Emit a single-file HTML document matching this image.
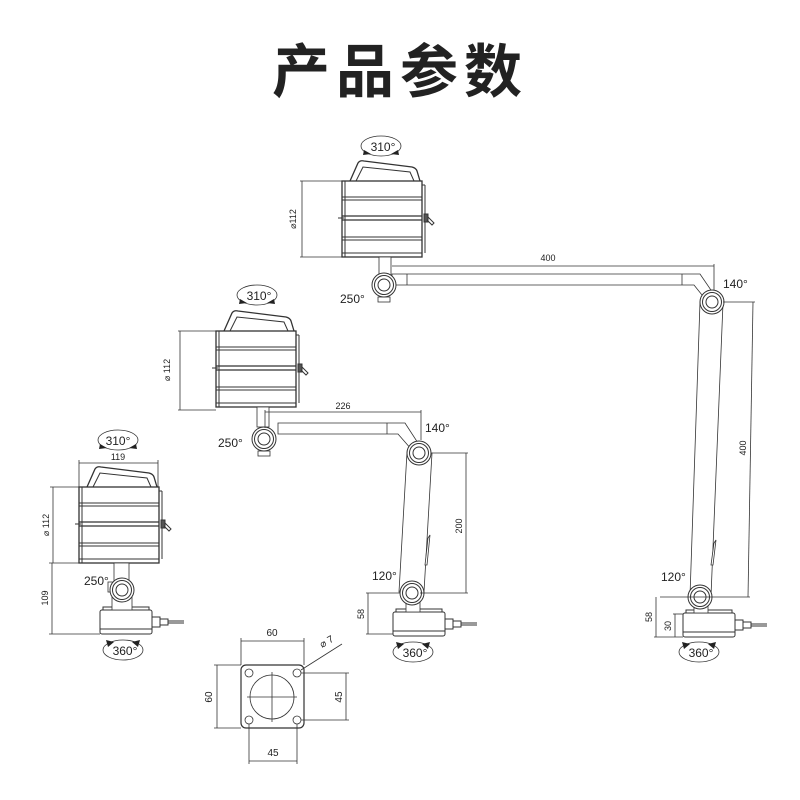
<!DOCTYPE html>
<html><head><meta charset="utf-8"><style>
html,body{margin:0;padding:0;background:#fff;}
svg{display:block;}
text{font-family:"Liberation Sans","Noto Sans CJK SC",sans-serif;fill:#222;}
</style></head><body>
<svg width="800" height="800" viewBox="0 0 800 800" xmlns="http://www.w3.org/2000/svg">
<defs>
<g id="head" fill="none" stroke="#333" stroke-width="1">
 <path d="M8 0 L16 -18 Q18 -21 22 -20 L70 -14 Q74 -13 75 -10 L78 0" stroke-width="1.3"/>
 <path d="M14 0 L21 -14 L68 -9 L72 0"/>
 <rect x="0" y="0" width="80" height="76" fill="#fff" stroke-width="1.3"/>
 <line x1="3" y1="0" x2="3" y2="76"/>
 <line x1="80" y1="4" x2="83" y2="4"/><line x1="83" y1="4" x2="83" y2="72"/>
 <line x1="0" y1="16" x2="80" y2="16"/><line x1="0" y1="19" x2="80" y2="19"/>
 <line x1="0" y1="35" x2="80" y2="35" stroke-width="1.3"/><line x1="0" y1="39" x2="80" y2="39" stroke-width="1.3"/>
 <line x1="0" y1="56" x2="80" y2="56"/><line x1="0" y1="59" x2="80" y2="59"/>
 <line x1="0" y1="72" x2="80" y2="72"/>
 <line x1="-4" y1="37" x2="2" y2="37"/>
 <rect x="82" y="33" width="4" height="8" fill="#555"/>
 <path d="M86 36 L92 42 L90 44 L85 39"/>
</g>
<g id="joint" fill="#fff" stroke="#333" stroke-width="1">
 <circle r="12"/><circle r="9.5"/><circle r="6"/>
</g>
<g id="base" fill="#fff" stroke="#333" stroke-width="1">
 <rect x="0" y="0" width="52" height="24" rx="2"/>
 <rect x="3" y="-3" width="46" height="3"/>
 <line x1="0" y1="19" x2="52" y2="19"/>
 <rect x="52" y="7" width="8" height="10"/>
 <rect x="60" y="9" width="8" height="6"/>
 <path d="M68 11 L84 11 M68 13 L84 13" />
</g>
</defs>

<text x="400" y="92" text-anchor="middle" font-size="58" font-weight="bold" fill="#111" style="font-family:'Noto Sans CJK SC',sans-serif;letter-spacing:6px">产品参数</text>

<g stroke="#333" fill="none" stroke-width="0.8">
<!-- ===== LEFT LAMP ===== -->
<use href="#head" x="79" y="487"/>
<ellipse cx="118" cy="440" rx="20" ry="10"/>
<text x="118" y="445" text-anchor="middle" font-size="12" stroke="none">310°</text>
<path d="M100 444 l7 4 -8 1z M136 444 l-7 4 8 1z" fill="#222" stroke="none"/>
<line x1="79" y1="463" x2="158" y2="463"/><line x1="79" y1="460" x2="79" y2="487"/><line x1="158" y1="460" x2="158" y2="487"/>
<text x="118" y="460" text-anchor="middle" font-size="9" stroke="none">119</text>
<line x1="53" y1="487" x2="53" y2="563"/><line x1="50" y1="487" x2="79" y2="487"/>
<text transform="translate(49,525) rotate(-90)" text-anchor="middle" font-size="9" stroke="none">⌀ 112</text>
<rect x="114" y="563" width="15" height="20" fill="#fff"/>
<rect x="108" y="582" width="6" height="10" fill="#fff"/>
<use href="#base" x="100" y="610"/>
<rect x="112" y="585" width="20" height="25" fill="#fff"/>
<use href="#joint" x="122" y="590"/>
<line x1="52" y1="563" x2="52" y2="634"/><line x1="49" y1="634" x2="100" y2="634"/><line x1="49" y1="563" x2="114" y2="563"/>
<text transform="translate(48,598) rotate(-90)" text-anchor="middle" font-size="9" stroke="none">109</text>
<text x="84" y="585" font-size="12" stroke="none">250°</text>
<ellipse cx="123" cy="650" rx="20" ry="10"/>
<text x="125" y="655" text-anchor="middle" font-size="12" stroke="none">360°</text>
<path d="M106 640 l8 2 -6 5z M140 640 l-8 2 6 5z" fill="#222" stroke="none"/>

<!-- ===== MIDDLE LAMP ===== -->
<use href="#head" x="216" y="331"/>
<ellipse cx="257" cy="295" rx="20" ry="10"/>
<text x="259" y="300" text-anchor="middle" font-size="12" stroke="none">310°</text>
<path d="M240 299 l7 4 -8 1z M274 299 l-7 4 8 1z" fill="#222" stroke="none"/>
<line x1="178" y1="331" x2="216" y2="331"/><line x1="178" y1="410" x2="216" y2="410"/>
<line x1="180" y1="331" x2="180" y2="410"/>
<text transform="translate(170,370) rotate(-90)" text-anchor="middle" font-size="9" stroke="none">⌀ 112</text>
<rect x="257" y="407" width="12" height="20" fill="#fff"/>
<path d="M278 423 L387 423 L405 423 L418 443 L420 450 L412 450 L398 434 L278 434 Z" fill="#fff"/>
<line x1="387" y1="423" x2="387" y2="434"/>
<rect x="258" y="451" width="12" height="5" fill="#fff"/>
<use href="#joint" x="264" y="439"/>
<line x1="265" y1="412" x2="421" y2="412"/><line x1="421" y1="410" x2="421" y2="440"/><line x1="265" y1="410" x2="265" y2="428"/>
<text x="343" y="409" text-anchor="middle" font-size="9" stroke="none">226</text>
<text x="218" y="447" font-size="12" stroke="none">250°</text>
<path d="M407 452 L399 592 L424 592 L432 453 Z" fill="#fff"/>
<path d="M430 535 L427 565 L425 565 L428 538z" fill="#fff"/>
<use href="#base" x="393" y="612"/>
<rect x="406" y="600" width="14" height="12" fill="#fff"/>
<use href="#joint" x="412" y="593"/>
<use href="#joint" x="419" y="453"/>
<line x1="432" y1="453" x2="468" y2="453"/><line x1="466" y1="453" x2="466" y2="593"/><line x1="420" y1="593" x2="468" y2="593"/>
<text transform="translate(462,526) rotate(-90)" text-anchor="middle" font-size="9" stroke="none">200</text>
<line x1="366" y1="593" x2="400" y2="593"/><line x1="368" y1="593" x2="368" y2="634"/><line x1="366" y1="634" x2="393" y2="634"/>
<text transform="translate(364,614) rotate(-90)" text-anchor="middle" font-size="9" stroke="none">58</text>
<text x="425" y="432" font-size="12" stroke="none">140°</text>
<text x="372" y="580" font-size="12" stroke="none">120°</text>
<ellipse cx="413" cy="652" rx="20" ry="10"/>
<text x="415" y="657" text-anchor="middle" font-size="12" stroke="none">360°</text>
<path d="M396 642 l8 2 -6 5z M430 642 l-8 2 6 5z" fill="#222" stroke="none"/>

<!-- ===== TOP/RIGHT LAMP ===== -->
<use href="#head" x="342" y="181"/>
<ellipse cx="381" cy="146" rx="20" ry="10"/>
<text x="383" y="151" text-anchor="middle" font-size="12" stroke="none">310°</text>
<path d="M364 150 l7 4 -8 1z M398 150 l-7 4 8 1z" fill="#222" stroke="none"/>
<line x1="300" y1="181" x2="342" y2="181"/><line x1="300" y1="257" x2="342" y2="257"/>
<line x1="302" y1="181" x2="302" y2="257"/>
<text transform="translate(296,219) rotate(-90)" text-anchor="middle" font-size="9" stroke="none">⌀112</text>
<rect x="379" y="257" width="12" height="20" fill="#fff"/>
<path d="M392 274 L682 274 L700 274 L713 293 L715 300 L706 300 L694 285 L392 285 Z" fill="#fff"/>
<line x1="682" y1="274" x2="682" y2="285"/><line x1="407" y1="274" x2="407" y2="285"/>
<rect x="378" y="297" width="12" height="5" fill="#fff"/>
<use href="#joint" x="384" y="285"/>
<line x1="392" y1="266" x2="714" y2="266"/><line x1="714" y1="264" x2="714" y2="290"/>
<text x="548" y="261" text-anchor="middle" font-size="9" stroke="none">400</text>
<text x="340" y="303" font-size="12" stroke="none">250°</text>
<path d="M700 302 L690 596 L711 596 L723 303 Z" fill="#fff"/>
<path d="M716 540 L713 565 L711 565 L714 543z" fill="#fff"/>
<use href="#base" x="683" y="613"/>
<rect x="694" y="603" width="14" height="10" fill="#fff"/>
<use href="#joint" x="700" y="597"/>
<use href="#joint" x="712" y="302"/>
<line x1="723" y1="302" x2="755" y2="302"/><line x1="753" y1="302" x2="748" y2="597"/><line x1="660" y1="597" x2="750" y2="597"/>
<text transform="translate(746,448) rotate(-90)" text-anchor="middle" font-size="9" stroke="none">400</text>
<line x1="656" y1="597" x2="656" y2="637"/><line x1="654" y1="637" x2="683" y2="637"/>
<text transform="translate(652,617) rotate(-90)" text-anchor="middle" font-size="9" stroke="none">58</text>
<line x1="675" y1="614" x2="675" y2="637"/><line x1="673" y1="614" x2="683" y2="614"/>
<text transform="translate(671,626) rotate(-90)" text-anchor="middle" font-size="9" stroke="none">30</text>
<text x="723" y="288" font-size="12" stroke="none">140°</text>
<text x="661" y="581" font-size="12" stroke="none">120°</text>
<ellipse cx="699" cy="652" rx="20" ry="10"/>
<text x="701" y="657" text-anchor="middle" font-size="12" stroke="none">360°</text>
<path d="M682 642 l8 2 -6 5z M716 642 l-8 2 6 5z" fill="#222" stroke="none"/>

<!-- ===== PLATE ===== -->
<rect x="241" y="665" width="63" height="63" rx="5" stroke-width="1.2"/>
<circle cx="249" cy="673" r="4"/><circle cx="297" cy="673" r="4"/>
<circle cx="249" cy="720" r="4"/><circle cx="297" cy="720" r="4"/>
<circle cx="272" cy="697" r="22"/>
<line x1="247" y1="697" x2="297" y2="697"/><line x1="272" y1="672" x2="272" y2="722"/>
<line x1="241" y1="641" x2="304" y2="641"/><line x1="241" y1="638" x2="241" y2="665"/><line x1="304" y1="638" x2="304" y2="665"/>
<text x="272" y="636" text-anchor="middle" font-size="10" stroke="none">60</text>
<line x1="217" y1="665" x2="217" y2="728"/><line x1="214" y1="665" x2="241" y2="665"/><line x1="214" y1="728" x2="241" y2="728"/>
<text transform="translate(212,697) rotate(-90)" text-anchor="middle" font-size="10" stroke="none">60</text>
<line x1="346" y1="673" x2="346" y2="720"/><line x1="301" y1="673" x2="349" y2="673"/><line x1="301" y1="720" x2="349" y2="720"/>
<text transform="translate(342,697) rotate(-90)" text-anchor="middle" font-size="10" stroke="none">45</text>
<line x1="249" y1="761" x2="297" y2="761"/><line x1="249" y1="724" x2="249" y2="764"/><line x1="297" y1="724" x2="297" y2="764"/>
<text x="273" y="756" text-anchor="middle" font-size="10" stroke="none">45</text>
<line x1="301" y1="670" x2="342" y2="644"/>
<text x="322" y="648" font-size="10" stroke="none" transform="rotate(-30,322,648)">⌀ 7</text>
</g>
</svg>
</body></html>
